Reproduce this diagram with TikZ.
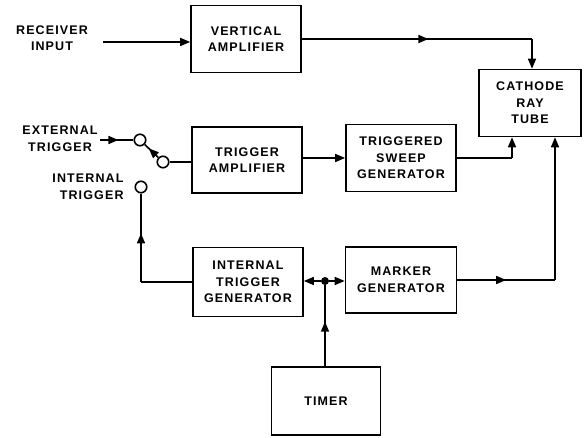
\documentclass[tikz,border=0pt]{standalone}
\usepackage{fontspec}
\setmainfont{Liberation Sans}[LetterSpace=9]
\usetikzlibrary{arrows.meta,decorations.markings}
\begin{document}
\begin{tikzpicture}[x=1pt,y=-1pt,
  blk/.style={draw,line width=1.6pt,minimum width=110pt,minimum height=67pt,align=center,inner sep=2pt},
  lbl/.style={align=center},
  wire/.style={line width=1.6pt},
  tip/.style={-{Triangle[length=10pt,width=8pt]}},
  midarrow/.style={decoration={markings,mark=at position #1 with {\arrow{Triangle[length=10pt,width=8pt]}}},postaction={decorate}},
  term/.style={circle,draw,line width=1.6pt,minimum size=11.5pt,inner sep=0pt,fill=white},
  every node/.append style={font=\fontsize{12.5}{16.5}\selectfont\bfseries}]
\useasboundingbox (0,0) rectangle (584,438);
\node[blk] (va) at (246,39) {VERTICAL\\AMPLIFIER};
\node[blk,minimum width=102pt] (crt) at (530,103) {CATHODE\\RAY\\TUBE};
\node[blk] (tsg) at (401,158) {TRIGGERED\\SWEEP\\GENERATOR};
\node[blk,minimum height=66pt] (ta) at (247,160) {TRIGGER\\AMPLIFIER};
\node[blk,minimum height=69pt] (itg) at (248,282) {INTERNAL\\TRIGGER\\GENERATOR};
\node[blk,minimum width=111pt,minimum height=66pt] (mg) at (401,280) {MARKER\\GENERATOR};
\node[blk,minimum width=109pt,minimum height=68pt] (tim) at (326,401) {TIMER};
\node[lbl] (rin) at (52,38) {RECEIVER\\INPUT};
\node[lbl] (ext) at (60,139) {EXTERNAL\\TRIGGER};
\node[lbl,align=right] (int) at (88,187) {INTERNAL\\TRIGGER};
\node[term] (c1) at (140,140) {};
\node[term] (c2) at (163,162) {};
\node[term] (c3) at (141,187) {};
\coordinate (rs) at (103,42);
\coordinate (es) at (100,140);
\coordinate (vac) at (532,39);
\coordinate (tsc) at (512,158);
\coordinate (mgc) at (555,280);
\coordinate (itc) at (141,282);
\node[circle,fill,inner sep=0pt,minimum size=8pt] (dot) at (325,281) {};
% receiver input
\draw[wire,tip] (rs) -- (rs -| va.west);
% vertical amp to CRT
\draw[wire,midarrow=0.55] (va.east |- vac) -- (vac);
\draw[wire,tip] (vac) -- (vac |- crt.north);
% external trigger
\draw[wire,midarrow=0.55] (es) -- (c1);
\draw[wire,midarrow=0.7] (c2) -- (c1);
\draw[wire] (c2) -- (c2 -| ta.west);
% trigger amp to TSG
\draw[wire,tip] (ta.east |- tsg.west) -- (tsg.west);
% TSG to CRT
\draw[wire] (tsg.east |- tsc) -- (tsc);
\draw[wire,tip] (tsc) -- (tsc |- crt.south);
% internal trigger
\draw[wire] (itg.west |- itc) -- (itc);
\draw[wire,midarrow=0.55] (itc) -- (c3);
% junction
\draw[wire,tip] (dot) -- (dot -| itg.east);
\draw[wire,tip] (dot) -- (dot -| mg.west);
\draw[wire,midarrow=0.55] (tim.north -| dot) -- (dot);
% marker gen to CRT
\draw[wire,midarrow=0.5] (mg.east |- mgc) -- (mgc);
\draw[wire,tip] (mgc) -- (mgc |- crt.south);
\end{tikzpicture}
\end{document}
